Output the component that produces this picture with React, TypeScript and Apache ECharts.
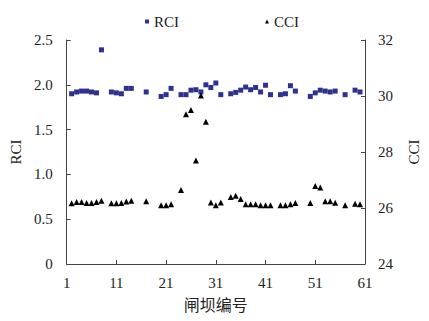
import React, { useEffect, useRef } from "react";
import * as echarts from "echarts";

const damIds = [2, 3, 4, 5, 6, 7, 8, 10, 11, 12, 13, 14, 17, 20, 21, 22, 24, 25, 26, 27, 28, 29, 30, 31, 32, 34, 35, 36, 37, 38, 39, 40, 41, 42, 44, 45, 46, 47, 50, 51, 52, 53, 54, 55, 57, 59, 60];
const rciValues = [1.9, 1.92, 1.93, 1.93, 1.92, 1.91, 2.39, 1.92, 1.91, 1.9, 1.96, 1.96, 1.92, 1.87, 1.89, 1.96, 1.89, 1.89, 1.94, 1.945, 1.92, 2.0, 1.97, 2.02, 1.89, 1.9, 1.915, 1.94, 1.975, 1.945, 1.97, 1.92, 1.995, 1.89, 1.89, 1.9, 1.99, 1.93, 1.87, 1.91, 1.94, 1.93, 1.92, 1.93, 1.89, 1.94, 1.92];
const cciValues = [26.17, 26.21, 26.21, 26.18, 26.18, 26.21, 26.26, 26.17, 26.17, 26.18, 26.23, 26.26, 26.24, 26.1, 26.1, 26.13, 26.64, 29.35, 29.5, 27.7, 30.02, 29.08, 26.2, 26.1, 26.2, 26.39, 26.44, 26.32, 26.13, 26.13, 26.13, 26.1, 26.1, 26.1, 26.1, 26.1, 26.13, 26.18, 26.18, 26.79, 26.73, 26.24, 26.24, 26.19, 26.1, 26.15, 26.13];

const serif = "'Liberation Serif', 'Times New Roman', serif";
const axisColor = "#444";

export default function App() {
  const ref = useRef<HTMLDivElement>(null);
  useEffect(() => {
    if (!ref.current) return;
    const chart = echarts.init(ref.current, undefined, { renderer: "svg" });
    const axisCommon = {
      axisLine: { show: true, lineStyle: { color: axisColor, width: 1 } },
      axisTick: { show: true, inside: true, length: 4, lineStyle: { color: axisColor } },
      splitLine: { show: false },
      axisLabel: { fontFamily: serif, fontSize: 15, color: "#222" },
      nameTextStyle: { fontFamily: serif, fontSize: 15, color: "#222" },
    };
    chart.setOption({
      animation: false,
      backgroundColor: "#fff",
      legend: {
        top: 9,
        left: 140,
        itemWidth: 4,
        itemHeight: 4,
        itemGap: 86,
        textStyle: { fontFamily: serif, fontSize: 15, color: "#222" },
        data: [
          { name: "RCI", icon: "rect" },
          { name: "CCI", icon: "triangle" },
        ],
      },
      grid: { left: 61, right: 52, top: 40, bottom: 57 },
      xAxis: {
        type: "value",
        min: 1,
        max: 61,
        interval: 10,
        name: "闸坝编号",
        nameLocation: "middle",
        nameGap: 32,
        ...axisCommon,
        axisLabel: { ...axisCommon.axisLabel, margin: 11 },
        nameTextStyle: { fontFamily: "'Noto Sans CJK SC', sans-serif", fontSize: 16, color: "#222" },
      },
      yAxis: [
        {
          type: "value",
          min: 0,
          max: 2.5,
          interval: 0.5,
          name: "RCI",
          nameLocation: "middle",
          nameGap: 41,
          ...axisCommon,
          axisLabel: { ...axisCommon.axisLabel, margin: 14, formatter: (v: number) => (v === 0 ? "0" : v.toFixed(1)) },
        },
        {
          type: "value",
          min: 24,
          max: 32,
          interval: 2,
          name: "CCI",
          nameLocation: "middle",
          nameGap: 41,
          position: "right",
          ...axisCommon,
          axisLabel: { ...axisCommon.axisLabel, margin: 13 },
        },
      ],
      series: [
        {
          name: "RCI",
          type: "scatter",
          yAxisIndex: 0,
          symbol: "rect",
          symbolSize: 5,
          itemStyle: { color: "#2E3192", opacity: 1 },
          data: damIds.map((d, i) => [d, rciValues[i]]),
        },
        {
          name: "CCI",
          type: "scatter",
          yAxisIndex: 1,
          symbol: "triangle",
          symbolSize: 6,
          itemStyle: { color: "#000", opacity: 1 },
          data: damIds.map((d, i) => [d, cciValues[i]]),
        },
      ],
    });
    return () => chart.dispose();
  }, []);
  return <div ref={ref} style={{ width: 429, height: 321, position: "absolute", left: 0, top: 0 }} />;
}
